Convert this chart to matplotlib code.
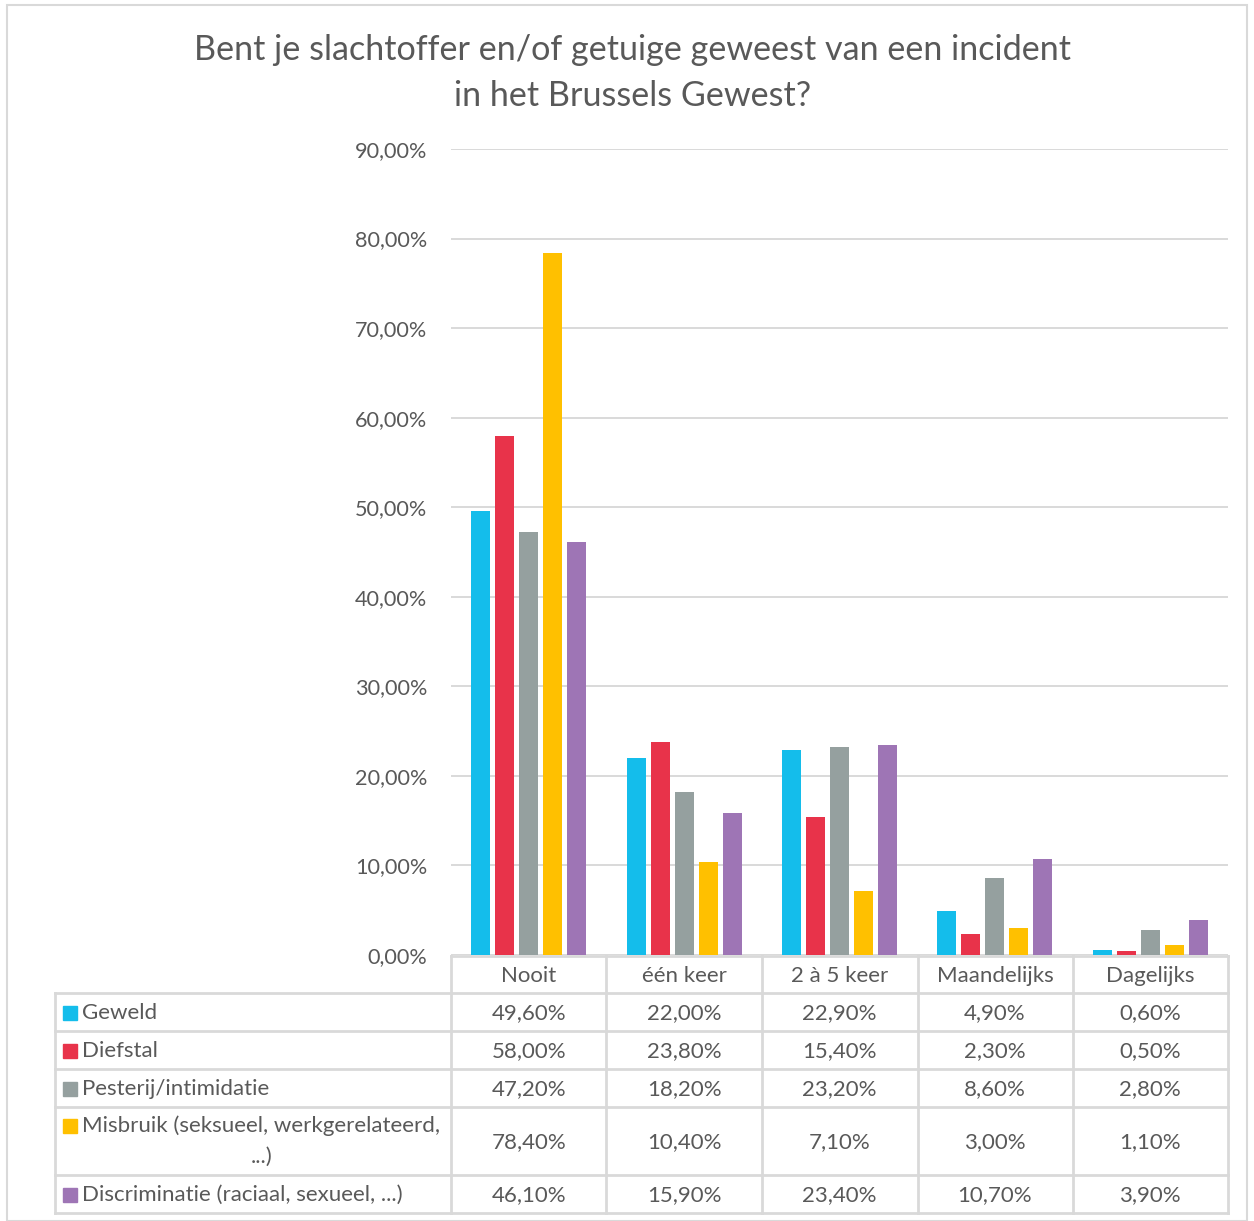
import matplotlib
matplotlib.use("Agg")
import matplotlib.pyplot as plt
from matplotlib.lines import Line2D
from matplotlib.patches import Rectangle
import matplotlib.transforms as mtransforms
import numpy as np

plt.rcParams['font.family'] = ['Lato', 'DejaVu Sans']

categories = ["Nooit", "één keer", "2 à 5 keer", "Maandelijks", "Dagelijks"]
series_names = ["Geweld", "Diefstal", "Pesterij/intimidatie",
                "Misbruik (seksueel, werkgerelateerd,\n...)",
                "Discriminatie (raciaal, sexueel, ...)"]
geweld = [49.6, 22.0, 22.9, 4.9, 0.6]
diefstal = [58.0, 23.8, 15.4, 2.3, 0.5]
pesterij = [47.2, 18.2, 23.2, 8.6, 2.8]
misbruik = [78.4, 10.4, 7.1, 3.0, 1.1]
discriminatie = [46.1, 15.9, 23.4, 10.7, 3.9]
series_values = [geweld, diefstal, pesterij, misbruik, discriminatie]
y_ticks = [0, 10, 20, 30, 40, 50, 60, 70, 80, 90]
title_lines = ["Bent je slachtoffer en/of getuige geweest van een incident",
               "in het Brussels Gewest?"]

colors = ["#14BDEB", "#E8334A", "#95A09F", "#FFC000", "#9E75B5"]
text_color = "#595959"
grid_color = "#D9D9D9"

W, H = 1254, 1221
fig = plt.figure(figsize=(W / 100, H / 100), dpi=100)

def fx(x):
    return x / W

def fy(y):
    return 1 - y / H

ax_left, ax_right, ax_top, ax_bottom = 451, 1228, 149, 955
ax = fig.add_axes([fx(ax_left), fy(ax_bottom), fx(ax_right - ax_left), (ax_bottom - ax_top) / H])

n = len(series_values)
x = np.arange(len(categories))
bw = 0.122
step = 0.1545
for i, (vals, c) in enumerate(zip(series_values, colors)):
    ax.bar(x + (i - (n - 1) / 2) * step, vals, width=bw, color=c, zorder=3)

ax.set_xlim(-0.5, len(categories) - 0.5)
ax.set_ylim(0, 90)
ax.set_yticks(y_ticks)
ax.set_yticklabels([f"{v:.2f}".replace(".", ",") + "%" for v in y_ticks])
ax.tick_params(axis='y', length=0, pad=17, labelsize=15.6, labelcolor=text_color)
ax.set_xticks([])
for s in ax.spines.values():
    s.set_visible(False)
ax.yaxis.grid(True, color=grid_color, lw=1.4, zorder=0)
ax.set_axisbelow(True)

# Title
for k, (t, ty) in enumerate(zip(title_lines, [50, 96])):
    fig.text(fx(633), fy(ty), t, ha='center', va='center', fontsize=24.6,
             color=text_color)

# Table
lc = grid_color
lw = 2.0
trans = mtransforms.blended_transform_factory(ax.transData, fig.transFigure)

def hline(y, x0, x1):
    fig.add_artist(Line2D([fx(x0), fx(x1)], [fy(y), fy(y)], color=lc, lw=lw,
                          transform=fig.transFigure))

def vline(xp, y0, y1):
    fig.add_artist(Line2D([fx(xp), fx(xp)], [fy(y0), fy(y1)], color=lc, lw=lw,
                          transform=fig.transFigure))

row_bounds = [993, 1031, 1069, 1107, 1175, 1213]
hline(956, ax_left, ax_right)
for yb in row_bounds:
    hline(yb, 55, ax_right)
vline(55, 993, 1213)
col_edges = [451, 606, 762, 918, 1073, 1228]
for xe in col_edges:
    vline(xe, 956, 1213)

fs = 16
for j, cat in enumerate(categories):
    fig.text(j, fy(976), cat, transform=trans, ha='center', va='center',
             fontsize=fs, color=text_color)

for i, name in enumerate(series_names):
    y0, y1 = row_bounds[i], row_bounds[i + 1]
    yc = (y0 + y1) / 2 + 1
    for j, v in enumerate(series_values[i]):
        fig.text(j, fy(yc), f"{v:.2f}".replace(".", ",") + "%", transform=trans,
                 ha='center', va='center', fontsize=fs, color=text_color)
    lines = name.split("\n")
    if len(lines) == 1:
        ty = yc
        fig.text(fx(82), fy(ty), name, ha='left', va='center', fontsize=fs, color=text_color)
    else:
        ty = y0 + 19
        fig.text(fx(82), fy(ty), lines[0], ha='left', va='center', fontsize=fs, color=text_color)
        fig.text(fx(262), fy(ty + 31), lines[1], ha='center', va='center', fontsize=fs, color=text_color)
    fig.add_artist(Rectangle((fx(63), fy(ty + 7)), fx(14), 14 / H, color=colors[i],
                             transform=fig.transFigure))

# outer frame
fig.add_artist(Rectangle((fx(7), fy(1221)), fx(1247 - 7), (1221 - 5) / H, fill=False,
                         edgecolor=grid_color, lw=1.5, transform=fig.transFigure))

fig.savefig("out.png", dpi=100)
